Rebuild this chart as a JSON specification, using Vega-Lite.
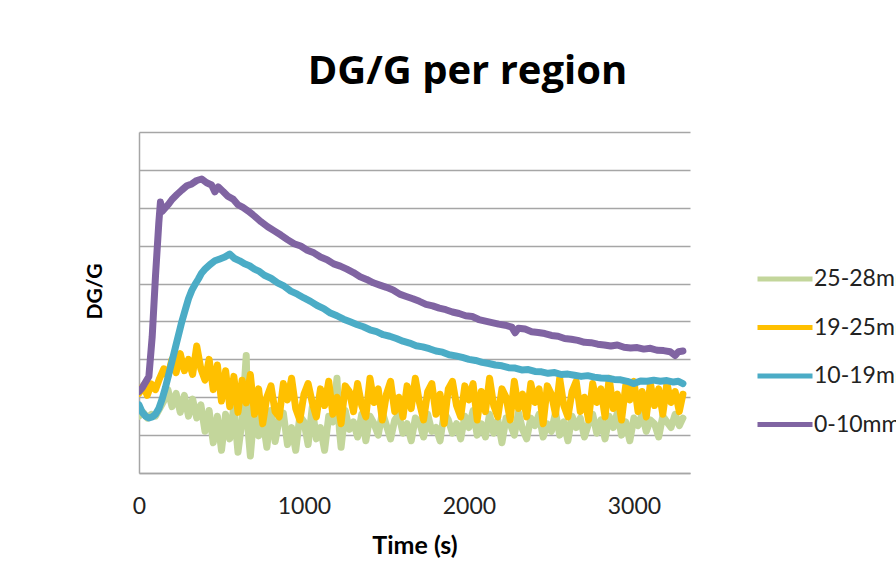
{
"$schema": "https://vega.github.io/schema/vega-lite/v6.json",
"width": 551, "height": 341,
"autosize": {"type": "none"},
"padding": {"left": 139, "top": 132, "right": 206, "bottom": 108},
"background": "white",
"title": {"text": "DG/G per region", "font": "Open Sans", "fontSize": 40, "fontWeight": "bold", "color": "#000000", "anchor": "middle", "dx": 53, "baseline": "alphabetic", "offset": 8},
"data": {"values": [
{"s":"25-28mm","t":0,"v":1.5},{"s":"25-28mm","t":25,"v":1.6},{"s":"25-28mm","t":50,"v":1.45},{"s":"25-28mm","t":75,"v":1.55},{"s":"25-28mm","t":100,"v":1.5},{"s":"25-28mm","t":125,"v":1.7},{"s":"25-28mm","t":150,"v":1.9},{"s":"25-28mm","t":175,"v":2.2},{"s":"25-28mm","t":200,"v":1.75},{"s":"25-28mm","t":225,"v":2.1},{"s":"25-28mm","t":250,"v":1.6},{"s":"25-28mm","t":275,"v":2.05},{"s":"25-28mm","t":300,"v":1.5},{"s":"25-28mm","t":325,"v":1.95},{"s":"25-28mm","t":350,"v":1.45},{"s":"25-28mm","t":375,"v":1.8},{"s":"25-28mm","t":400,"v":1.1},{"s":"25-28mm","t":425,"v":1.65},{"s":"25-28mm","t":450,"v":0.8},{"s":"25-28mm","t":475,"v":1.5},{"s":"25-28mm","t":500,"v":0.6},{"s":"25-28mm","t":525,"v":1.55},{"s":"25-28mm","t":550,"v":0.9},{"s":"25-28mm","t":575,"v":1.75},{"s":"25-28mm","t":600,"v":0.55},{"s":"25-28mm","t":625,"v":1.4},{"s":"25-28mm","t":650,"v":3.1},{"s":"25-28mm","t":660,"v":1.2},{"s":"25-28mm","t":675,"v":0.45},{"s":"25-28mm","t":700,"v":1.73},{"s":"25-28mm","t":725,"v":0.98},{"s":"25-28mm","t":750,"v":1.43},{"s":"25-28mm","t":775,"v":0.68},{"s":"25-28mm","t":800,"v":1.65},{"s":"25-28mm","t":825,"v":0.83},{"s":"25-28mm","t":850,"v":1.43},{"s":"25-28mm","t":875,"v":1.58},{"s":"25-28mm","t":900,"v":0.75},{"s":"25-28mm","t":925,"v":1.2},{"s":"25-28mm","t":950,"v":0.6},{"s":"25-28mm","t":975,"v":1.5},{"s":"25-28mm","t":1000,"v":1.35},{"s":"25-28mm","t":1025,"v":0.75},{"s":"25-28mm","t":1050,"v":1.73},{"s":"25-28mm","t":1075,"v":0.9},{"s":"25-28mm","t":1100,"v":1.2},{"s":"25-28mm","t":1125,"v":0.6},{"s":"25-28mm","t":1150,"v":1.5},{"s":"25-28mm","t":1175,"v":1.35},{"s":"25-28mm","t":1200,"v":2.5},{"s":"25-28mm","t":1215,"v":1.13},{"s":"25-28mm","t":1225,"v":0.68},{"s":"25-28mm","t":1250,"v":1.65},{"s":"25-28mm","t":1275,"v":1.15},{"s":"25-28mm","t":1300,"v":1.35},{"s":"25-28mm","t":1325,"v":0.95},{"s":"25-28mm","t":1350,"v":1.55},{"s":"25-28mm","t":1375,"v":0.85},{"s":"25-28mm","t":1400,"v":1.5},{"s":"25-28mm","t":1425,"v":1.3},{"s":"25-28mm","t":1450,"v":1.0},{"s":"25-28mm","t":1475,"v":1.6},{"s":"25-28mm","t":1500,"v":1.25},{"s":"25-28mm","t":1525,"v":0.9},{"s":"25-28mm","t":1550,"v":1.4},{"s":"25-28mm","t":1575,"v":1.55},{"s":"25-28mm","t":1600,"v":1.05},{"s":"25-28mm","t":1625,"v":1.3},{"s":"25-28mm","t":1650,"v":0.85},{"s":"25-28mm","t":1675,"v":1.45},{"s":"25-28mm","t":1700,"v":1.35},{"s":"25-28mm","t":1725,"v":0.95},{"s":"25-28mm","t":1750,"v":1.55},{"s":"25-28mm","t":1775,"v":1.1},{"s":"25-28mm","t":1800,"v":1.2},{"s":"25-28mm","t":1825,"v":0.85},{"s":"25-28mm","t":1850,"v":1.6},{"s":"25-28mm","t":1875,"v":1.4},{"s":"25-28mm","t":1900,"v":1.05},{"s":"25-28mm","t":1925,"v":1.3},{"s":"25-28mm","t":1950,"v":0.9},{"s":"25-28mm","t":1975,"v":1.5},{"s":"25-28mm","t":2000,"v":1.2},{"s":"25-28mm","t":2025,"v":1.65},{"s":"25-28mm","t":2050,"v":1.0},{"s":"25-28mm","t":2075,"v":1.3},{"s":"25-28mm","t":2100,"v":0.95},{"s":"25-28mm","t":2125,"v":1.55},{"s":"25-28mm","t":2150,"v":1.05},{"s":"25-28mm","t":2175,"v":1.4},{"s":"25-28mm","t":2200,"v":0.8},{"s":"25-28mm","t":2225,"v":1.45},{"s":"25-28mm","t":2250,"v":1.3},{"s":"25-28mm","t":2275,"v":1.0},{"s":"25-28mm","t":2300,"v":1.6},{"s":"25-28mm","t":2325,"v":1.15},{"s":"25-28mm","t":2350,"v":0.9},{"s":"25-28mm","t":2375,"v":1.45},{"s":"25-28mm","t":2400,"v":1.25},{"s":"25-28mm","t":2425,"v":1.55},{"s":"25-28mm","t":2450,"v":0.95},{"s":"25-28mm","t":2475,"v":1.3},{"s":"25-28mm","t":2500,"v":1.1},{"s":"25-28mm","t":2525,"v":1.6},{"s":"25-28mm","t":2550,"v":1.0},{"s":"25-28mm","t":2575,"v":1.35},{"s":"25-28mm","t":2600,"v":0.85},{"s":"25-28mm","t":2625,"v":1.5},{"s":"25-28mm","t":2650,"v":1.2},{"s":"25-28mm","t":2675,"v":1.45},{"s":"25-28mm","t":2700,"v":0.95},{"s":"25-28mm","t":2725,"v":1.3},{"s":"25-28mm","t":2750,"v":1.55},{"s":"25-28mm","t":2775,"v":1.05},{"s":"25-28mm","t":2800,"v":1.4},{"s":"25-28mm","t":2825,"v":0.9},{"s":"25-28mm","t":2850,"v":1.5},{"s":"25-28mm","t":2875,"v":1.2},{"s":"25-28mm","t":2900,"v":1.6},{"s":"25-28mm","t":2925,"v":1.0},{"s":"25-28mm","t":2950,"v":1.35},{"s":"25-28mm","t":2975,"v":0.85},{"s":"25-28mm","t":3000,"v":1.45},{"s":"25-28mm","t":3025,"v":1.25},{"s":"25-28mm","t":3050,"v":1.55},{"s":"25-28mm","t":3075,"v":1.1},{"s":"25-28mm","t":3100,"v":1.4},{"s":"25-28mm","t":3125,"v":1.3},{"s":"25-28mm","t":3150,"v":0.95},{"s":"25-28mm","t":3175,"v":1.5},{"s":"25-28mm","t":3200,"v":1.35},{"s":"25-28mm","t":3225,"v":1.2},{"s":"25-28mm","t":3250,"v":1.55},{"s":"25-28mm","t":3275,"v":1.25},{"s":"25-28mm","t":3297,"v":1.45},
{"s":"19-25mm","t":0,"v":2.1},{"s":"19-25mm","t":25,"v":2.3},{"s":"19-25mm","t":50,"v":2.05},{"s":"19-25mm","t":75,"v":2.35},{"s":"19-25mm","t":100,"v":2.2},{"s":"19-25mm","t":125,"v":2.5},{"s":"19-25mm","t":150,"v":2.75},{"s":"19-25mm","t":175,"v":2.55},{"s":"19-25mm","t":200,"v":3.0},{"s":"19-25mm","t":225,"v":2.65},{"s":"19-25mm","t":250,"v":3.15},{"s":"19-25mm","t":275,"v":2.7},{"s":"19-25mm","t":300,"v":3.0},{"s":"19-25mm","t":325,"v":2.6},{"s":"19-25mm","t":350,"v":3.35},{"s":"19-25mm","t":375,"v":2.75},{"s":"19-25mm","t":400,"v":2.45},{"s":"19-25mm","t":425,"v":3.0},{"s":"19-25mm","t":450,"v":2.2},{"s":"19-25mm","t":475,"v":2.85},{"s":"19-25mm","t":500,"v":1.9},{"s":"19-25mm","t":525,"v":2.7},{"s":"19-25mm","t":550,"v":1.75},{"s":"19-25mm","t":575,"v":2.55},{"s":"19-25mm","t":600,"v":1.6},{"s":"19-25mm","t":625,"v":2.45},{"s":"19-25mm","t":650,"v":1.85},{"s":"19-25mm","t":675,"v":2.6},{"s":"19-25mm","t":700,"v":1.55},{"s":"19-25mm","t":725,"v":2.22},{"s":"19-25mm","t":750,"v":1.3},{"s":"19-25mm","t":775,"v":2.0},{"s":"19-25mm","t":800,"v":2.3},{"s":"19-25mm","t":825,"v":1.62},{"s":"19-25mm","t":850,"v":1.48},{"s":"19-25mm","t":875,"v":2.36},{"s":"19-25mm","t":900,"v":1.93},{"s":"19-25mm","t":925,"v":2.5},{"s":"19-25mm","t":950,"v":1.7},{"s":"19-25mm","t":975,"v":1.4},{"s":"19-25mm","t":1000,"v":2.08},{"s":"19-25mm","t":1025,"v":2.36},{"s":"19-25mm","t":1050,"v":1.86},{"s":"19-25mm","t":1075,"v":1.48},{"s":"19-25mm","t":1100,"v":2.22},{"s":"19-25mm","t":1125,"v":1.78},{"s":"19-25mm","t":1150,"v":2.42},{"s":"19-25mm","t":1175,"v":1.55},{"s":"19-25mm","t":1200,"v":2.0},{"s":"19-25mm","t":1225,"v":1.3},{"s":"19-25mm","t":1250,"v":2.3},{"s":"19-25mm","t":1275,"v":2.15},{"s":"19-25mm","t":1300,"v":1.62},{"s":"19-25mm","t":1325,"v":2.36},{"s":"19-25mm","t":1350,"v":1.78},{"s":"19-25mm","t":1375,"v":1.48},{"s":"19-25mm","t":1400,"v":2.5},{"s":"19-25mm","t":1425,"v":1.86},{"s":"19-25mm","t":1450,"v":2.22},{"s":"19-25mm","t":1475,"v":1.4},{"s":"19-25mm","t":1500,"v":2.08},{"s":"19-25mm","t":1525,"v":2.42},{"s":"19-25mm","t":1550,"v":1.62},{"s":"19-25mm","t":1575,"v":2.0},{"s":"19-25mm","t":1600,"v":1.48},{"s":"19-25mm","t":1625,"v":2.3},{"s":"19-25mm","t":1650,"v":1.7},{"s":"19-25mm","t":1675,"v":2.5},{"s":"19-25mm","t":1700,"v":1.86},{"s":"19-25mm","t":1725,"v":1.4},{"s":"19-25mm","t":1750,"v":2.15},{"s":"19-25mm","t":1775,"v":2.36},{"s":"19-25mm","t":1800,"v":1.55},{"s":"19-25mm","t":1825,"v":2.08},{"s":"19-25mm","t":1850,"v":1.3},{"s":"19-25mm","t":1875,"v":2.22},{"s":"19-25mm","t":1900,"v":2.42},{"s":"19-25mm","t":1925,"v":1.78},{"s":"19-25mm","t":1950,"v":1.48},{"s":"19-25mm","t":1975,"v":2.3},{"s":"19-25mm","t":2000,"v":1.93},{"s":"19-25mm","t":2025,"v":2.36},{"s":"19-25mm","t":2050,"v":1.4},{"s":"19-25mm","t":2075,"v":2.15},{"s":"19-25mm","t":2100,"v":1.62},{"s":"19-25mm","t":2125,"v":2.5},{"s":"19-25mm","t":2150,"v":1.78},{"s":"19-25mm","t":2175,"v":1.48},{"s":"19-25mm","t":2200,"v":2.22},{"s":"19-25mm","t":2225,"v":2.0},{"s":"19-25mm","t":2250,"v":1.4},{"s":"19-25mm","t":2275,"v":2.42},{"s":"19-25mm","t":2300,"v":1.7},{"s":"19-25mm","t":2325,"v":2.08},{"s":"19-25mm","t":2350,"v":1.48},{"s":"19-25mm","t":2375,"v":2.36},{"s":"19-25mm","t":2400,"v":1.86},{"s":"19-25mm","t":2425,"v":2.22},{"s":"19-25mm","t":2450,"v":1.3},{"s":"19-25mm","t":2475,"v":2.3},{"s":"19-25mm","t":2500,"v":2.08},{"s":"19-25mm","t":2525,"v":1.55},{"s":"19-25mm","t":2550,"v":2.5},{"s":"19-25mm","t":2575,"v":1.78},{"s":"19-25mm","t":2600,"v":1.48},{"s":"19-25mm","t":2625,"v":2.15},{"s":"19-25mm","t":2650,"v":2.42},{"s":"19-25mm","t":2675,"v":1.62},{"s":"19-25mm","t":2700,"v":2.0},{"s":"19-25mm","t":2725,"v":1.4},{"s":"19-25mm","t":2750,"v":2.36},{"s":"19-25mm","t":2775,"v":1.86},{"s":"19-25mm","t":2800,"v":2.22},{"s":"19-25mm","t":2825,"v":1.48},{"s":"19-25mm","t":2850,"v":2.5},{"s":"19-25mm","t":2875,"v":1.7},{"s":"19-25mm","t":2900,"v":2.08},{"s":"19-25mm","t":2925,"v":1.4},{"s":"19-25mm","t":2950,"v":2.3},{"s":"19-25mm","t":2975,"v":1.93},{"s":"19-25mm","t":3000,"v":2.42},{"s":"19-25mm","t":3025,"v":1.62},{"s":"19-25mm","t":3050,"v":2.15},{"s":"19-25mm","t":3075,"v":1.48},{"s":"19-25mm","t":3100,"v":2.36},{"s":"19-25mm","t":3125,"v":1.78},{"s":"19-25mm","t":3150,"v":2.22},{"s":"19-25mm","t":3175,"v":1.55},{"s":"19-25mm","t":3200,"v":2.36},{"s":"19-25mm","t":3225,"v":1.86},{"s":"19-25mm","t":3250,"v":2.15},{"s":"19-25mm","t":3275,"v":1.62},{"s":"19-25mm","t":3297,"v":2.08},
{"s":"10-19mm","t":0,"v":1.8},{"s":"10-19mm","t":20,"v":1.6},{"s":"10-19mm","t":40,"v":1.5},{"s":"10-19mm","t":60,"v":1.45},{"s":"10-19mm","t":80,"v":1.48},{"s":"10-19mm","t":100,"v":1.55},{"s":"10-19mm","t":120,"v":1.7},{"s":"10-19mm","t":140,"v":1.95},{"s":"10-19mm","t":160,"v":2.25},{"s":"10-19mm","t":180,"v":2.6},{"s":"10-19mm","t":200,"v":2.95},{"s":"10-19mm","t":220,"v":3.3},{"s":"10-19mm","t":240,"v":3.65},{"s":"10-19mm","t":260,"v":4.0},{"s":"10-19mm","t":280,"v":4.3},{"s":"10-19mm","t":300,"v":4.6},{"s":"10-19mm","t":320,"v":4.82},{"s":"10-19mm","t":340,"v":4.98},{"s":"10-19mm","t":360,"v":5.12},{"s":"10-19mm","t":380,"v":5.28},{"s":"10-19mm","t":400,"v":5.38},{"s":"10-19mm","t":430,"v":5.5},{"s":"10-19mm","t":460,"v":5.6},{"s":"10-19mm","t":490,"v":5.65},{"s":"10-19mm","t":520,"v":5.7},{"s":"10-19mm","t":550,"v":5.78},{"s":"10-19mm","t":580,"v":5.66},{"s":"10-19mm","t":610,"v":5.6},{"s":"10-19mm","t":640,"v":5.52},{"s":"10-19mm","t":670,"v":5.47},{"s":"10-19mm","t":700,"v":5.38},{"s":"10-19mm","t":730,"v":5.32},{"s":"10-19mm","t":760,"v":5.22},{"s":"10-19mm","t":800,"v":5.14},{"s":"10-19mm","t":840,"v":5.02},{"s":"10-19mm","t":880,"v":4.93},{"s":"10-19mm","t":920,"v":4.8},{"s":"10-19mm","t":960,"v":4.72},{"s":"10-19mm","t":1000,"v":4.62},{"s":"10-19mm","t":1040,"v":4.53},{"s":"10-19mm","t":1080,"v":4.42},{"s":"10-19mm","t":1120,"v":4.34},{"s":"10-19mm","t":1160,"v":4.22},{"s":"10-19mm","t":1200,"v":4.15},{"s":"10-19mm","t":1240,"v":4.06},{"s":"10-19mm","t":1280,"v":3.99},{"s":"10-19mm","t":1320,"v":3.92},{"s":"10-19mm","t":1360,"v":3.86},{"s":"10-19mm","t":1400,"v":3.78},{"s":"10-19mm","t":1440,"v":3.73},{"s":"10-19mm","t":1480,"v":3.65},{"s":"10-19mm","t":1520,"v":3.61},{"s":"10-19mm","t":1560,"v":3.55},{"s":"10-19mm","t":1600,"v":3.48},{"s":"10-19mm","t":1640,"v":3.43},{"s":"10-19mm","t":1680,"v":3.36},{"s":"10-19mm","t":1720,"v":3.33},{"s":"10-19mm","t":1760,"v":3.28},{"s":"10-19mm","t":1800,"v":3.22},{"s":"10-19mm","t":1840,"v":3.19},{"s":"10-19mm","t":1880,"v":3.12},{"s":"10-19mm","t":1920,"v":3.09},{"s":"10-19mm","t":1960,"v":3.05},{"s":"10-19mm","t":2000,"v":3.0},{"s":"10-19mm","t":2040,"v":2.97},{"s":"10-19mm","t":2080,"v":2.92},{"s":"10-19mm","t":2120,"v":2.89},{"s":"10-19mm","t":2160,"v":2.85},{"s":"10-19mm","t":2200,"v":2.83},{"s":"10-19mm","t":2240,"v":2.78},{"s":"10-19mm","t":2280,"v":2.77},{"s":"10-19mm","t":2320,"v":2.72},{"s":"10-19mm","t":2360,"v":2.73},{"s":"10-19mm","t":2400,"v":2.68},{"s":"10-19mm","t":2440,"v":2.67},{"s":"10-19mm","t":2480,"v":2.63},{"s":"10-19mm","t":2520,"v":2.65},{"s":"10-19mm","t":2560,"v":2.6},{"s":"10-19mm","t":2600,"v":2.61},{"s":"10-19mm","t":2640,"v":2.58},{"s":"10-19mm","t":2680,"v":2.55},{"s":"10-19mm","t":2720,"v":2.57},{"s":"10-19mm","t":2760,"v":2.53},{"s":"10-19mm","t":2800,"v":2.51},{"s":"10-19mm","t":2840,"v":2.5},{"s":"10-19mm","t":2880,"v":2.47},{"s":"10-19mm","t":2920,"v":2.46},{"s":"10-19mm","t":2960,"v":2.42},{"s":"10-19mm","t":3000,"v":2.36},{"s":"10-19mm","t":3040,"v":2.43},{"s":"10-19mm","t":3080,"v":2.42},{"s":"10-19mm","t":3120,"v":2.45},{"s":"10-19mm","t":3160,"v":2.42},{"s":"10-19mm","t":3200,"v":2.44},{"s":"10-19mm","t":3240,"v":2.4},{"s":"10-19mm","t":3270,"v":2.42},{"s":"10-19mm","t":3297,"v":2.36},
{"s":"0-10mm","t":0,"v":2.15},{"s":"0-10mm","t":20,"v":2.25},{"s":"0-10mm","t":40,"v":2.4},{"s":"0-10mm","t":60,"v":2.55},{"s":"0-10mm","t":80,"v":3.6},{"s":"0-10mm","t":100,"v":5.2},{"s":"0-10mm","t":120,"v":6.6},{"s":"0-10mm","t":130,"v":7.15},{"s":"0-10mm","t":140,"v":6.9},{"s":"0-10mm","t":160,"v":7.0},{"s":"0-10mm","t":180,"v":7.1},{"s":"0-10mm","t":200,"v":7.22},{"s":"0-10mm","t":230,"v":7.35},{"s":"0-10mm","t":260,"v":7.47},{"s":"0-10mm","t":290,"v":7.58},{"s":"0-10mm","t":320,"v":7.63},{"s":"0-10mm","t":350,"v":7.72},{"s":"0-10mm","t":380,"v":7.76},{"s":"0-10mm","t":410,"v":7.66},{"s":"0-10mm","t":440,"v":7.6},{"s":"0-10mm","t":460,"v":7.42},{"s":"0-10mm","t":480,"v":7.55},{"s":"0-10mm","t":510,"v":7.43},{"s":"0-10mm","t":540,"v":7.3},{"s":"0-10mm","t":570,"v":7.23},{"s":"0-10mm","t":600,"v":7.08},{"s":"0-10mm","t":630,"v":7.01},{"s":"0-10mm","t":660,"v":6.92},{"s":"0-10mm","t":700,"v":6.78},{"s":"0-10mm","t":740,"v":6.63},{"s":"0-10mm","t":780,"v":6.5},{"s":"0-10mm","t":820,"v":6.39},{"s":"0-10mm","t":860,"v":6.28},{"s":"0-10mm","t":900,"v":6.16},{"s":"0-10mm","t":940,"v":6.05},{"s":"0-10mm","t":980,"v":5.99},{"s":"0-10mm","t":1020,"v":5.88},{"s":"0-10mm","t":1060,"v":5.81},{"s":"0-10mm","t":1100,"v":5.7},{"s":"0-10mm","t":1140,"v":5.63},{"s":"0-10mm","t":1180,"v":5.52},{"s":"0-10mm","t":1220,"v":5.46},{"s":"0-10mm","t":1260,"v":5.38},{"s":"0-10mm","t":1300,"v":5.29},{"s":"0-10mm","t":1340,"v":5.18},{"s":"0-10mm","t":1380,"v":5.11},{"s":"0-10mm","t":1420,"v":5.02},{"s":"0-10mm","t":1460,"v":4.96},{"s":"0-10mm","t":1500,"v":4.9},{"s":"0-10mm","t":1540,"v":4.83},{"s":"0-10mm","t":1580,"v":4.72},{"s":"0-10mm","t":1620,"v":4.66},{"s":"0-10mm","t":1660,"v":4.6},{"s":"0-10mm","t":1700,"v":4.53},{"s":"0-10mm","t":1740,"v":4.45},{"s":"0-10mm","t":1780,"v":4.41},{"s":"0-10mm","t":1820,"v":4.35},{"s":"0-10mm","t":1860,"v":4.31},{"s":"0-10mm","t":1900,"v":4.25},{"s":"0-10mm","t":1940,"v":4.21},{"s":"0-10mm","t":1980,"v":4.15},{"s":"0-10mm","t":2020,"v":4.13},{"s":"0-10mm","t":2060,"v":4.05},{"s":"0-10mm","t":2100,"v":4.01},{"s":"0-10mm","t":2140,"v":3.97},{"s":"0-10mm","t":2180,"v":3.93},{"s":"0-10mm","t":2220,"v":3.9},{"s":"0-10mm","t":2260,"v":3.85},{"s":"0-10mm","t":2280,"v":3.7},{"s":"0-10mm","t":2300,"v":3.82},{"s":"0-10mm","t":2340,"v":3.8},{"s":"0-10mm","t":2380,"v":3.73},{"s":"0-10mm","t":2420,"v":3.71},{"s":"0-10mm","t":2460,"v":3.68},{"s":"0-10mm","t":2500,"v":3.63},{"s":"0-10mm","t":2540,"v":3.61},{"s":"0-10mm","t":2580,"v":3.55},{"s":"0-10mm","t":2620,"v":3.53},{"s":"0-10mm","t":2660,"v":3.5},{"s":"0-10mm","t":2700,"v":3.45},{"s":"0-10mm","t":2740,"v":3.44},{"s":"0-10mm","t":2780,"v":3.4},{"s":"0-10mm","t":2820,"v":3.38},{"s":"0-10mm","t":2860,"v":3.35},{"s":"0-10mm","t":2900,"v":3.38},{"s":"0-10mm","t":2940,"v":3.32},{"s":"0-10mm","t":2980,"v":3.3},{"s":"0-10mm","t":3020,"v":3.31},{"s":"0-10mm","t":3060,"v":3.27},{"s":"0-10mm","t":3100,"v":3.29},{"s":"0-10mm","t":3140,"v":3.24},{"s":"0-10mm","t":3180,"v":3.23},{"s":"0-10mm","t":3220,"v":3.2},{"s":"0-10mm","t":3250,"v":3.1},{"s":"0-10mm","t":3270,"v":3.2},{"s":"0-10mm","t":3297,"v":3.22}
]},
"mark": {"type": "line", "strokeWidth": 7, "strokeJoin": "round", "strokeCap": "round", "clip": true},
"encoding": {
"x": {"field": "t", "type": "quantitative", "title": "Time (s)",
  "scale": {"domain": [0, 3340], "nice": false, "zero": false},
  "axis": {"values": [0, 1000, 2000, 3000], "format": "d", "grid": false, "ticks": false, "domain": true, "domainColor": "#A6A6A6", "domainWidth": 1.5,
    "labelFont": "Lato", "labelFontSize": 23, "labelColor": "#222222", "labelPadding": 22, "labelFlush": false,
    "titleFont": "Lato", "titleFontSize": 25, "titleFontWeight": "bold", "titleColor": "#000000", "titlePadding": 15}},
"y": {"field": "v", "type": "quantitative", "title": "DG/G",
  "scale": {"domain": [0, 9], "nice": false, "zero": false},
  "axis": {"values": [0,1,2,3,4,5,6,7,8,9], "grid": true, "gridColor": "#A6A6A6", "gridWidth": 1.5, "ticks": false, "labels": false,
    "domain": true, "domainColor": "#A6A6A6", "domainWidth": 1.5,
    "titleFont": "Lato", "titleFontSize": 21, "titleFontWeight": "bold", "titleColor": "#000000",
    "titleAngle": -90, "titleAlign": "center", "titleBaseline": "middle", "titleX": -44, "titleY": 159}},
"color": {"field": "s", "type": "nominal", "sort": ["25-28mm", "19-25mm", "10-19mm", "0-10mm"],
  "scale": {"domain": ["25-28mm", "19-25mm", "10-19mm", "0-10mm"], "range": ["#C3D69B", "#FFC000", "#4BACC6", "#8064A2"]},
  "legend": {"title": null, "orient": "none", "legendX": 616, "legendY": 117, "symbolType": "stroke", "symbolSize": 3025, "symbolStrokeWidth": 5,
    "labelFont": "Lato", "labelFontSize": 23, "labelColor": "#222222", "labelOffset": -1, "rowPadding": 6.5, "labelLimit": 300}}
},
"config": {"view": {"stroke": null}}
}
